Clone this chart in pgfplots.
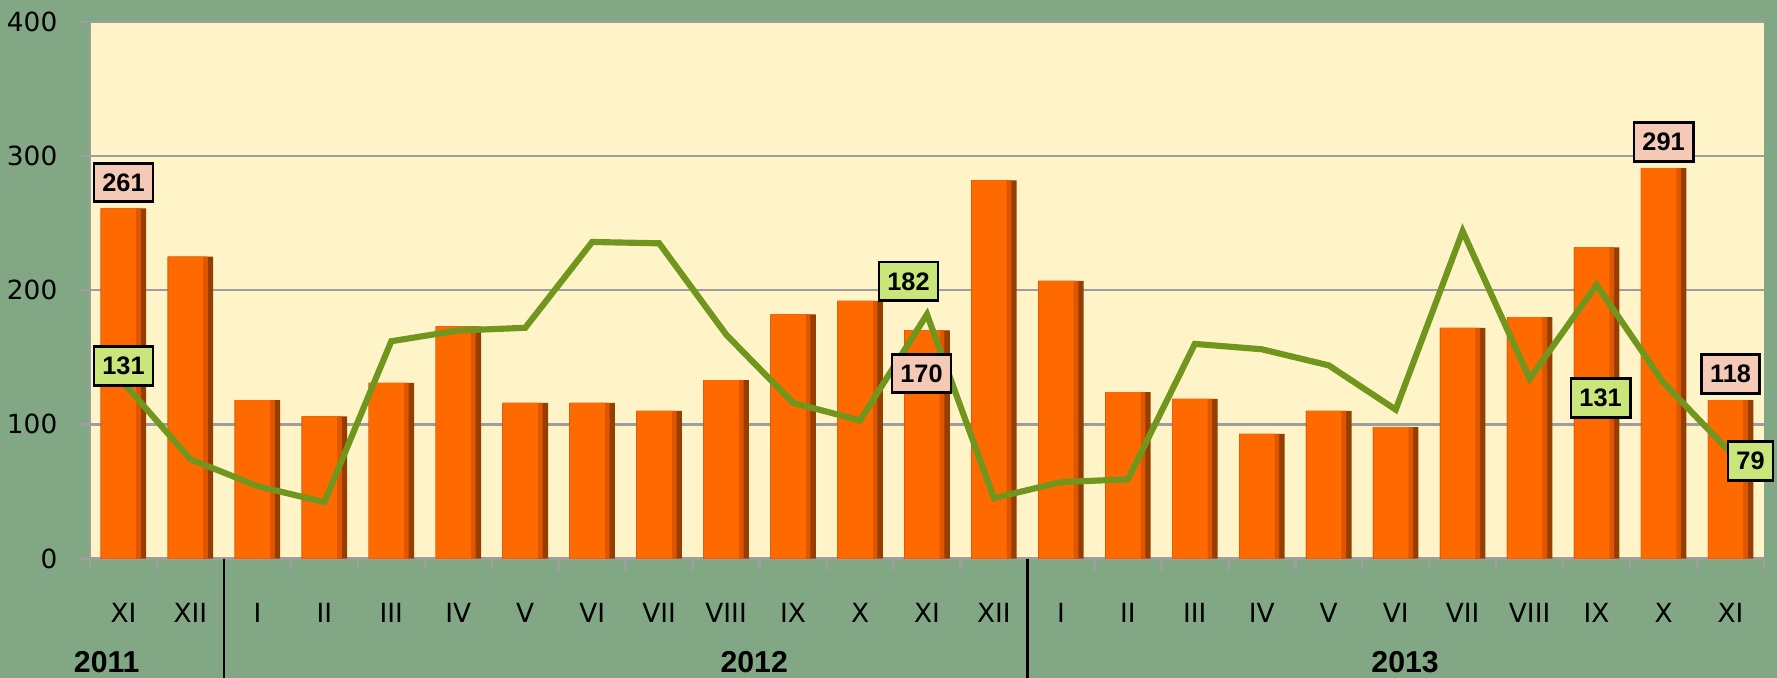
\documentclass[border=0pt]{standalone}
\usepackage{fontspec}
\setmainfont{DejaVu Sans}
\newfontfamily\arialfont{Liberation Sans}
\usepackage{pgfplots}
\usepackage{pgfplotstable}
\pgfplotsset{compat=1.18}

\definecolor{bgGreen}{RGB}{129,167,132}
\definecolor{plotYellow}{RGB}{255,243,200}
\definecolor{barOrange}{RGB}{255,106,0}
\definecolor{barMid}{RGB}{222,86,0}
\definecolor{barDark}{RGB}{150,62,0}
\definecolor{lineGreen}{RGB}{112,150,30}
\definecolor{boxPink}{RGB}{244,202,182}
\definecolor{boxGreen}{RGB}{200,230,122}
\definecolor{gridGray}{RGB}{158,158,158}

\tikzset{
  vlab/.style={draw=black, line width=0.8pt, font=\arialfont\bfseries\fontsize{7.2}{8}\selectfont,
    inner xsep=2.4pt, inner ysep=0pt, minimum height=11pt},
  pinkbox/.style={vlab, fill=boxPink},
  greenbox/.style={vlab, fill=boxGreen},
  year/.style={font=\arialfont\bfseries\fontsize{8.6}{9}\selectfont},
}

% idx: 0 = XI 2011 ... 24 = XI 2013
\pgfplotstableread{
idx bar line
0  261 131
1  225 74
2  118 54
3  106 42
4  131 162
5  173 170
6  116 172
7  116 236
8  110 235
9  133 167
10 182 116
11 192 103
12 170 182
13 282 45
14 207 57
15 124 59
16 119 160
17 93  156
18 110 144
19 98  111
20 172 244
21 180 134
22 232 204
23 291 131
24 118 79
}\datatable

\begin{document}
\begin{tikzpicture}
\path[use as bounding box, fill=bgGreen] (-9.0mm,-11.95mm) rectangle (168.7mm,55.85mm);
\begin{axis}[
  at={(0,0)}, anchor=south west,
  scale only axis, width=167.4mm, height=53.65mm,
  xmin=-0.5, xmax=24.5, ymin=0, ymax=400,
  clip=false,
  axis background/.style={fill=plotYellow},
  axis lines=left,
  axis line style={-, gridGray, line width=0.7pt},
  tick style={gridGray, line width=0.7pt},
  tick align=outside,
  major tick length=1.1mm,
  ytick={0,100,200,300,400},
  ymajorgrids,
  grid style={gridGray, line width=0.7pt},
  /pgf/number format/assume math mode=true,
  ticklabel style={font=\fontsize{7.5}{8}\selectfont},
  yticklabel style={inner sep=0pt, xshift=-2.1mm},
  xtick={-0.5,0.5,...,24.5},
  xticklabel=\empty,
  extra x ticks={0,1,...,24},
  extra x tick labels={XI,XII,I,II,III,IV,V,VI,VII,VIII,IX,X,XI,XII,I,II,III,IV,V,VI,VII,VIII,IX,X,XI},
  extra x tick style={major tick length=0pt, tick label style={anchor=north, inner sep=0pt, yshift=-4.4mm}},
]
% bars in three layers: dark edge, mid shade, bright face
\addplot[ybar, bar width=0.68, bar shift=0, draw=none, fill=barDark] table[x=idx, y=bar] {\datatable};
\addplot[ybar, bar width=0.60, bar shift=-0.04, draw=none, fill=barMid] table[x=idx, y=bar] {\datatable};
\addplot[ybar, bar width=0.52, bar shift=-0.07, draw=none, fill=barOrange] table[x=idx, y=bar] {\datatable};
\addplot[lineGreen, line width=1.75pt, mark=none] table[x=idx, y=line] {\datatable};

\draw[black, line width=0.7pt] (axis cs:1.5,0) -- ([yshift=-12mm]axis cs:1.5,0);
\draw[black, line width=0.7pt] (axis cs:13.5,0) -- ([yshift=-12mm]axis cs:13.5,0);

\node[year] at ([yshift=-10.35mm]axis cs:-0.25,0) {2011};
\node[year] at ([yshift=-10.35mm]axis cs:9.42,0) {2012};
\node[year] at ([yshift=-10.35mm]axis cs:19.14,0) {2013};

\node[pinkbox]  at ([yshift=2.6mm]axis cs:0,261) {261};
\node[greenbox] at ([yshift=1.7mm]axis cs:0,131) {131};
\node[greenbox] at ([xshift=-1.85mm, yshift=3.3mm]axis cs:12,182) {182};
\node[pinkbox]  at ([xshift=-0.55mm, yshift=-4.3mm]axis cs:12,170) {170};
\node[pinkbox]  at ([yshift=2.6mm]axis cs:23,291) {291};
\node[greenbox] at ([xshift=-6.3mm, yshift=-1.5mm]axis cs:23,131) {131};
\node[pinkbox]  at ([yshift=2.6mm]axis cs:24,118) {118};
\node[greenbox] at ([xshift=2.0mm, yshift=-0.85mm]axis cs:24,79) {79};
\end{axis}
\end{tikzpicture}
\end{document}
